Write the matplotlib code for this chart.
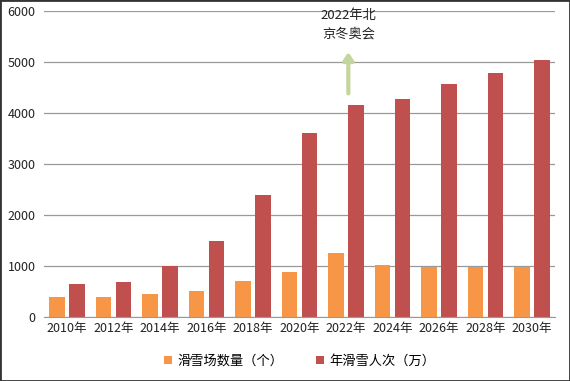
import matplotlib.pyplot as plt
import numpy as np

plt.rcParams['font.family'] = ['Noto Sans CJK SC', 'DejaVu Sans']

years = ['2010年', '2012年', '2014年', '2016年', '2018年', '2020年',
         '2022年', '2024年', '2026年', '2028年', '2030年']
resorts = [390, 400, 450, 515, 705, 880, 1260, 1025, 985, 985, 985]
visits = [650, 680, 1005, 1490, 2390, 3610, 4160, 4280, 4570, 4780, 5040]

fig = plt.figure(figsize=(5.7, 3.81), dpi=100)
ax = fig.add_axes([0.077, 0.168, 0.897, 0.803])

x = np.arange(len(years))
w = 0.33
ax.bar(x - 0.215, resorts, w, color='#f79646', label='滑雪场数量（个）', zorder=2)
ax.bar(x + 0.215, visits, w, color='#c0504d', label='年滑雪人次（万）', zorder=2)

ax.set_xlim(-0.5, len(years) - 0.5)
ax.set_ylim(0, 6000)
ax.set_yticks(range(0, 6001, 1000))
ax.set_xticks(x)
ax.set_xticklabels(years)
ax.tick_params(length=0, labelsize=9, colors='#222222')
ax.tick_params(axis='y', pad=6)
ax.grid(axis='y', color='#999999', linewidth=0.9, zorder=0)
for s in ['top', 'right', 'left']:
    ax.spines[s].set_visible(False)
ax.spines['bottom'].set_color('#999999')

# arrow for the 2022 Olympics
ax.annotate('', xy=(6.05, 5250), xytext=(6.05, 4330),
            arrowprops=dict(arrowstyle='-|>,head_width=0.3,head_length=0.45',
                            color='#c3d69b', lw=3))
ax.text(6.05, 5730, '2022年北\n京冬奥会', ha='center', va='center',
        fontsize=9.5, color='#222222', linespacing=1.5)

ax.legend(loc='upper center', bbox_to_anchor=(0.5, -0.085), ncol=2,
          frameon=False, fontsize=9.5, handlelength=0.6, handleheight=0.6,
          columnspacing=2.5, handletextpad=0.4)

fig.patches.append(plt.Rectangle((0, 0), 1, 1, transform=fig.transFigure,
                                 fill=False, edgecolor='#333333', lw=2))
fig.savefig('out.png', dpi=100)
